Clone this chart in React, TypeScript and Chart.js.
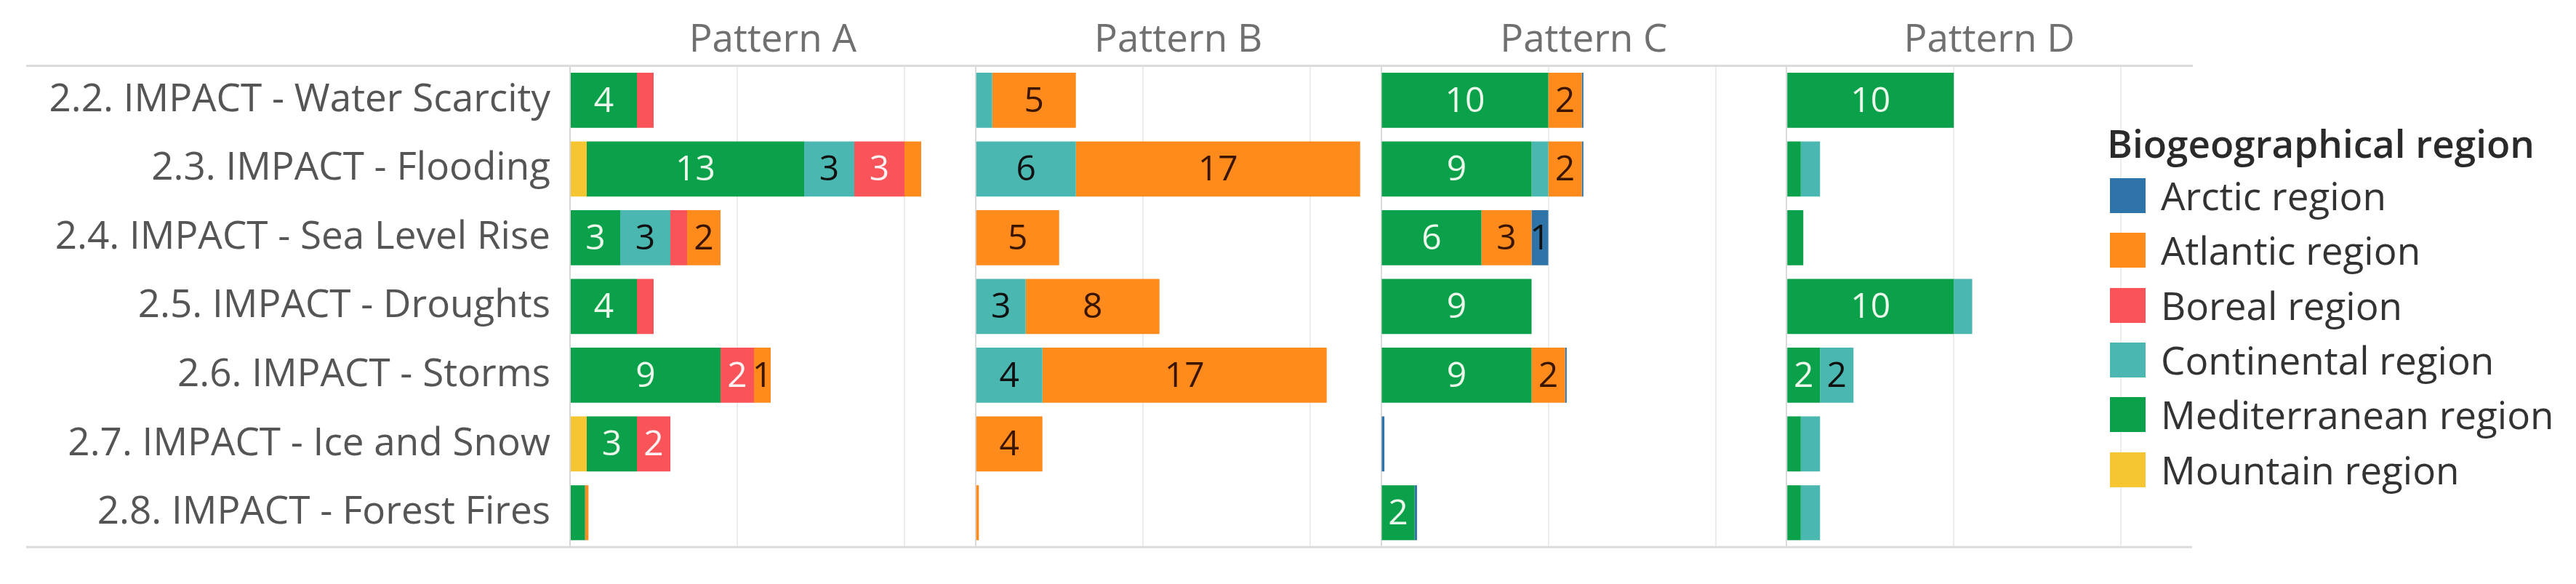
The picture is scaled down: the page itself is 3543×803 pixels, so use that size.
import React, { useEffect, useRef } from 'react';
import { Chart, registerables } from 'chart.js';

Chart.register(...registerables);

const FONT = '"Open Sans", sans-serif';

const categories = [
  '2.2. IMPACT - Water Scarcity',
  '2.3. IMPACT - Flooding',
  '2.4. IMPACT - Sea Level Rise',
  '2.5. IMPACT - Droughts',
  '2.6. IMPACT - Storms',
  '2.7. IMPACT - Ice and Snow',
  '2.8. IMPACT - Forest Fires',
];

// legend order
const regions = [
  'Arctic region',
  'Atlantic region',
  'Boreal region',
  'Continental region',
  'Mediterranean region',
  'Mountain region',
];
const regionColors = ['#2f74a9', '#ff8b1c', '#f9545a', '#4ab8b1', '#0aa14a', '#f6c532'];
const labelColors = ['#111111', '#3a1600', '#fff1f1', '#111111', '#eaf7ea', '#333333'];

const panels = ['Pattern A', 'Pattern B', 'Pattern C', 'Pattern D'];
const axisTicks = [0, 10, 20];
const axisMax = 24.25;

// rows: Arctic, Atlantic, Boreal, Continental, Mediterranean, Mountain
const patternA = [
  [0, 0, 0, 0, 0, 0, 0],
  [0, 1, 2, 0, 1, 0, 0.2],
  [1, 3, 1, 1, 2, 2, 0],
  [0, 3, 3, 0, 0, 0, 0],
  [4, 13, 3, 4, 9, 3, 0.9],
  [0, 1, 0, 0, 0, 1, 0],
];
const patternB = [
  [0, 0, 0, 0, 0, 0, 0],
  [5, 17, 5, 8, 17, 4, 0.2],
  [0, 0, 0, 0, 0, 0, 0],
  [1, 6, 0, 3, 4, 0, 0],
  [0, 0, 0, 0, 0, 0, 0],
  [0, 0, 0, 0, 0, 0, 0],
];
const patternC = [
  [0.1, 0.1, 1, 0, 0.1, 0.2, 0.15],
  [2, 2, 3, 0, 2, 0, 0],
  [0, 0, 0, 0, 0, 0, 0],
  [0, 1, 0, 0, 0, 0, 0],
  [10, 9, 6, 9, 9, 0, 2],
  [0, 0, 0, 0, 0, 0, 0],
];
const patternD = [
  [0, 0, 0, 0, 0, 0, 0],
  [0, 0, 0, 0, 0, 0, 0],
  [0, 0, 0, 0, 0, 0, 0],
  [0, 1.15, 0, 1.1, 2, 1.15, 1.15],
  [10, 0.85, 1, 10, 2, 0.85, 0.85],
  [0, 0, 0, 0, 0, 0, 0],
];
const panelData = [patternA, patternB, patternC, patternD];

// segments of value 1 that still carry a label
const labelledOnes = [
  { panel: 0, category: 4, region: 1 },
  { panel: 2, category: 2, region: 0 },
];

const valueLabels = {
  id: 'valueLabels',
  afterDatasetsDraw(chart: any) {
    const ctx = chart.ctx;
    ctx.save();
    ctx.font = `48px ${FONT}`;
    ctx.textAlign = 'center';
    ctx.textBaseline = 'middle';
    chart.data.datasets.forEach((ds: any, di: number) => {
      const meta = chart.getDatasetMeta(di);
      meta.data.forEach((el: any, i: number) => {
        const v = ds.data[i];
        const forced = labelledOnes.some(
          (l) => l.panel === ds.panelIndex && l.category === i && l.region === ds.regionIndex
        );
        if (!(v >= 1.5 || forced)) return;
        const { x, base, y } = el.getProps(['x', 'base', 'y'], true);
        ctx.fillStyle = labelColors[ds.regionIndex];
        ctx.fillText(String(Math.round(v)), (x + base) / 2, y + 2);
      });
    });
    ctx.restore();
  },
};

const frameLines = {
  id: 'frameLines',
  afterDraw(chart: any) {
    const { ctx, chartArea } = chart;
    ctx.save();
    ctx.strokeStyle = '#dcdcdc';
    ctx.lineWidth = 3;
    ctx.beginPath();
    ctx.moveTo(36, chartArea.top);
    ctx.lineTo(chartArea.right, chartArea.top);
    ctx.moveTo(36, chartArea.bottom);
    ctx.lineTo(chartArea.right, chartArea.bottom);
    ctx.stroke();
    ctx.restore();
  },
};

export default function App() {
  const ref = useRef<HTMLCanvasElement>(null);

  useEffect(() => {
    Chart.defaults.font.family = FONT;
    const datasets: any[] = [];
    panelData.forEach((matrix, p) => {
      for (let r = regions.length - 1; r >= 0; r--) {
        datasets.push({
          label: regions[r],
          data: matrix[r],
          xAxisID: 'x' + p,
          yAxisID: 'y',
          stack: 'all',
          backgroundColor: regionColors[r],
          borderWidth: 0,
          barPercentage: 0.8,
          categoryPercentage: 1,
          panelIndex: p,
          regionIndex: r,
        });
      }
    });

    const scales: any = {};
    // top boxes are laid out in reverse insertion order, so insert the last panel first
    for (let p = panels.length - 1; p >= 0; p--) {
      scales['x' + p] = {
        type: 'linear',
        position: 'top',
        stack: 'panels',
        stackWeight: 1,
        stacked: true,
        min: 0,
        max: axisMax,
        afterBuildTicks: (s: any) => {
          s.ticks = axisTicks.map((v) => ({ value: v }));
        },
        ticks: { display: false },
        grid: {
          drawTicks: false,
          lineWidth: 2,
          color: (c: any) => (c.tick && c.tick.value === 0 ? '#dadada' : '#ececec'),
        },
        border: { display: true, color: '#dcdcdc', width: 3 },
        title: {
          display: true,
          text: panels[p],
          color: '#707070',
          font: { size: 53, family: FONT },
          padding: { top: 24, bottom: 3 },
        },
      };
    }
    scales.y = {
      type: 'category',
      position: 'left',
      stacked: true,
      grid: { display: false },
      border: { display: true, color: '#d6d6d6', width: 2 },
      ticks: { font: { size: 53, family: FONT }, color: '#555555', padding: 19 },
      afterFit: (s: any) => {
        s.width = 784;
      },
    };

    const chart = new Chart(ref.current as HTMLCanvasElement, {
      type: 'bar',
      data: { labels: categories, datasets },
      options: {
        indexAxis: 'y',
        responsive: false,
        animation: false,
        layout: { padding: { left: 0, right: 528, top: 0, bottom: 33 } },
        scales,
        plugins: { legend: { display: false }, tooltip: { enabled: false } },
      } as any,
      plugins: [valueLabels, frameLines],
    });
    return () => chart.destroy();
  }, []);

  const legendRowTop = 245;
  const legendStep = 75.3;

  return (
    <div
      style={{
        position: 'absolute',
        left: 0,
        top: 0,
        width: 3543,
        height: 803,
        background: '#ffffff',
        fontFamily: FONT,
        overflow: 'hidden',
      }}
    >
      <canvas ref={ref} width={3543} height={803} style={{ position: 'absolute', left: 0, top: 0 }} />
      <div
        style={{
          position: 'absolute',
          left: 2898,
          top: 170,
          fontSize: 53,
          lineHeight: '53px',
          fontWeight: 600,
          color: '#2a2a2a',
          whiteSpace: 'nowrap',
        }}
      >
        Biogeographical region
      </div>
      {regions.map((r, i) => (
        <div
          key={r}
          style={{
            position: 'absolute',
            left: 2902,
            top: legendRowTop + i * legendStep,
            height: 48,
            display: 'flex',
            alignItems: 'center',
            whiteSpace: 'nowrap',
          }}
        >
          <div style={{ width: 49, height: 48, background: regionColors[i], marginRight: 21 }} />
          <span style={{ fontSize: 53, lineHeight: '48px', color: '#333333' }}>{r}</span>
        </div>
      ))}
    </div>
  );
}
